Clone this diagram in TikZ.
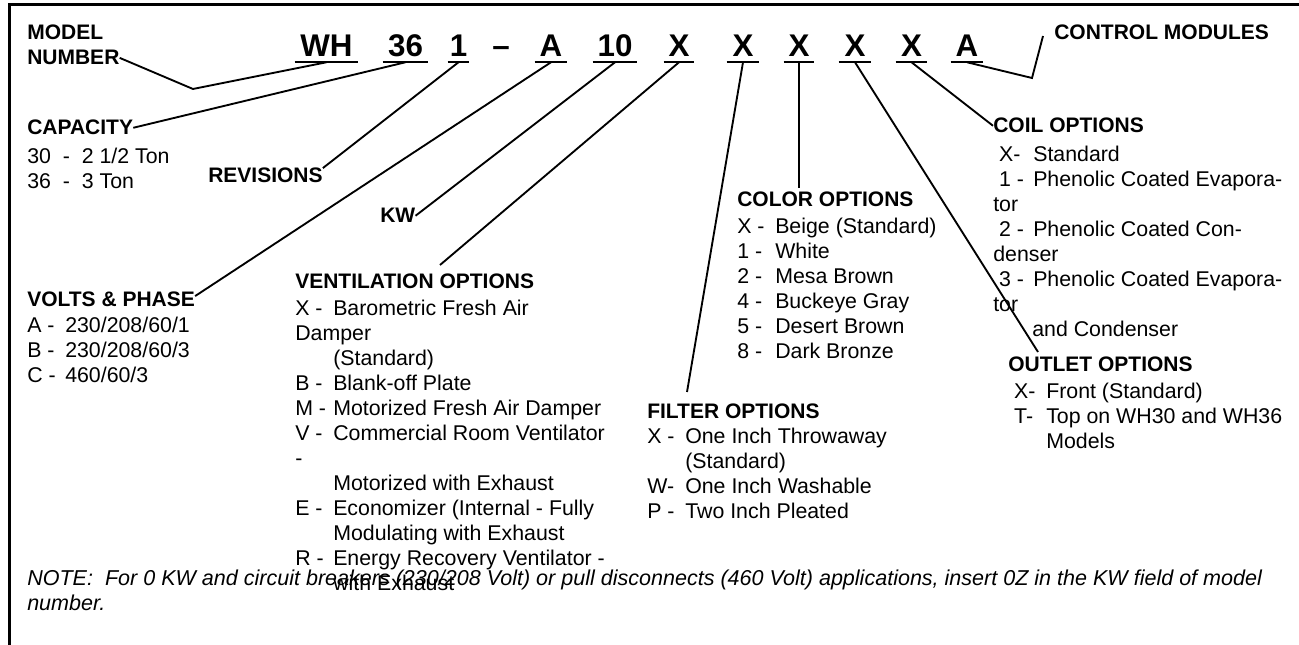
\documentclass[tikz,border=0pt]{standalone}
\usepackage{fontspec}
\setmainfont{Liberation Sans}
\usetikzlibrary{calc}
\newcommand{\optkey}[2][28.5pt]{\makebox[#1][l]{#2}}
\newcommand{\optind}{\hspace*{28.5pt}}

\begin{document}
\begin{tikzpicture}[x=0.75pt, y=-0.75pt,
    head/.style={font=\fontsize{15.75}{18.75}\selectfont\bfseries, anchor=base west, inner sep=0pt},
    optlist/.style={font=\fontsize{16}{18.75}\selectfont, align=left, anchor=north west, inner sep=0pt},
    code/.style={font=\fontsize{23.5}{28}\selectfont\bfseries, anchor=base, inner sep=0pt, text depth=3.75pt},
    uline/.style={line width=1.5pt},
    conn/.style={line width=1.4pt},
    frame/.style={line width=2.25pt},
  ]
  \useasboundingbox (0,0) rectangle (1299,645);
  \draw[frame] (1299,5) -- (9,5) -- (9,645);

  % model number fields
  \foreach \n/\t/\c/\w in {cmodel/WH/326.5/63, ccap/36/405.5/45, crev/1/458.5/21,
      cvolt/A/551/32, ckw/10/615/44, cvent/X/679/30, cfilter/X/743/32,
      ccolor/X/799/30, coutlet/X/855/32, ccoil/X/911.5/31, cctrl/A/967/32} {
    \node[code, minimum width=\w*0.75pt] (\n) at (\c,57) {\t};
    \draw[uline] (\n.south west) -- (\n.south east);
  }
  \node[code] (csep) at (501,57) {–};

  % headings
  \node[head] (model)     at (27,40)    {MODEL};
  \node[head] (number)    at (27,65)    {NUMBER};
  \node[head] (control)   at (1054,40)  {CONTROL MODULES};
  \node[head] (capacity)  at (27,135)   {CAPACITY};
  \node[head] (revisions) at (208,183)  {REVISIONS};
  \node[head] (kw)        at (380,223)  {KW};
  \node[head] (volts)     at (27,306)   {VOLTS \& PHASE};
  \node[head] (vent)      at (295,288)  {VENTILATION OPTIONS};
  \node[head] (color)     at (737,207)  {COLOR OPTIONS};
  \node[head] (filter)    at (647,418)  {FILTER OPTIONS};
  \node[head] (coil)      at (993,133)  {COIL OPTIONS};
  \node[head] (outlet)    at (1008,371) {OUTLET OPTIONS};

  % option lists
  \node[optlist] (capacitylist) at (27,148) {%
    30\ \ -\ \ 2 1/2 Ton\\
    36\ \ -\ \ 3 Ton};
  \node[optlist] (voltslist) at (27,317) {%
    \optkey{A -}230/208/60/1\\
    \optkey{B -}230/208/60/3\\
    \optkey{C -}460/60/3};
  \node[optlist] (ventlist) at (295,300) {%
    \optkey{X -}Barometric Fresh Air\\
    Damper\\
    \optind(Standard)\\
    \optkey{B -}Blank-off Plate\\
    \optkey{M -}Motorized Fresh Air Damper\\
    \optkey{V -}Commercial Room Ventilator\\
    -\\
    \optind Motorized with Exhaust\\
    \optkey{E -}Economizer (Internal - Fully\\
    \optind Modulating with Exhaust\\
    \optkey{R -}Energy Recovery Ventilator -\\
    \optind with Exhaust};
  \node[optlist] (colorlist) at (737,218) {%
    \optkey{X -}Beige (Standard)\\
    \optkey{1 -}White\\
    \optkey{2 -}Mesa Brown\\
    \optkey{4 -}Buckeye Gray\\
    \optkey{5 -}Desert Brown\\
    \optkey{8 -}Dark Bronze};
  \node[optlist] (filterlist) at (647,428) {%
    \optkey{X -}One Inch Throwaway\\
    \optind(Standard)\\
    \optkey{W-}One Inch Washable\\
    \optkey{P -}Two Inch Pleated};
  \node[optlist] (coillist) at (993,146) {%
    \optkey[30pt]{\ X-}Standard\\
    \optkey[30pt]{\ 1 -}Phenolic Coated Evapora-\\
    tor\\
    \optkey[30pt]{\ 2 -}Phenolic Coated Con-\\
    denser\\
    \optkey[30pt]{\ 3 -}Phenolic Coated Evapora-\\
    tor\\
    \hspace*{29.25pt}and Condenser};
  \node[optlist] (outletlist) at (1008,383) {%
    \optkey{\ X-}Front (Standard)\\
    \optkey{\ T-}Top on WH30 and WH36\\
    \optind Models};
  \node[optlist, font=\fontsize{16.15}{18.75}\selectfont\itshape] (note) at (27,570) {%
    NOTE:\ \ For 0 KW and circuit breakers (230/208 Volt) or pull disconnects (460 Volt) applications, insert 0Z in the KW field of model\\
    number.};

  % free ends and bends of the leaders
  \coordinate (modelbend) at (193,89);
  \coordinate (ventend)   at (440,265);
  \coordinate (filterend) at (687,392);
  \coordinate (colorend)  at (799,188);
  \coordinate (outletend) at (1038,352);
  \coordinate (ctrlbend)  at (1032,78);
  \coordinate (ctrlend)   at (1043,36);

  \draw[conn] (number.east) -- (modelbend) -- (cmodel.south);
  \draw[conn] (capacity.east) -- (ccap.south);
  \draw[conn] (revisions.north east) -- (crev.south);
  \draw[conn] ([yshift=-3.75pt]volts.north east) -- (cvolt.south);
  \draw[conn] (kw.east) -- (ckw.south);
  \draw[conn] (ventend) -- (cvent.south);
  \draw[conn] (filterend) -- (cfilter.south);
  \draw[conn] (colorend) -- (ccolor.south);
  \draw[conn] (coutlet.south) -- (outletend);
  \draw[conn] (ccoil.south) -- (coil.west);
  \draw[conn] (cctrl.south) -- (ctrlbend) -- (ctrlend);
\end{tikzpicture}
\end{document}
